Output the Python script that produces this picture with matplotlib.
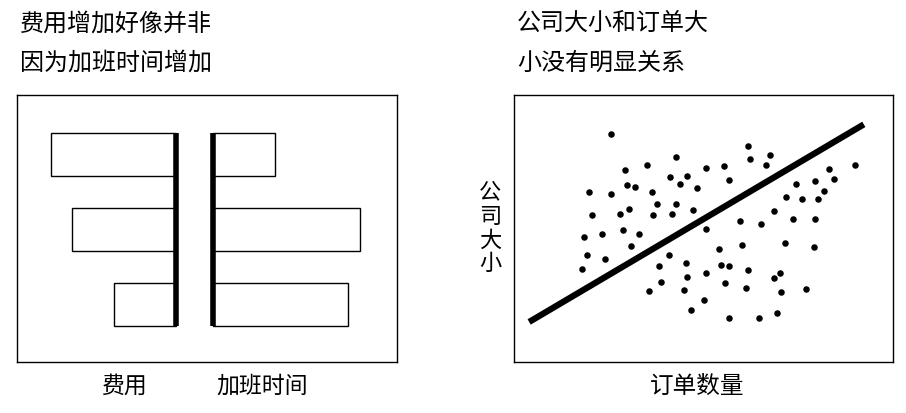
import matplotlib.pyplot as plt
import numpy as np

plt.rcParams['font.family'] = ['Noto Sans CJK SC', 'DejaVu Sans']

# Datos del panel izquierdo (3 departamentos)
costos = [6.3, 5.2, 3.1]          # 费用
horas_extra = [3.1, 7.3, 6.7]     # 加班时间

# Datos del panel derecho: 订单数量 (x) vs 公司大小 (y)
pedidos = [25.5, 61.8, 42.8, 62.4, 67.5, 66.4, 35.2, 29.2, 50.7, 55.4,
           83.0, 90.1, 41.2, 45.7, 56.6, 84.5, 79.4, 74.3, 29.7, 31.8,
           43.7, 48.4, 19.8, 25.6, 36.5, 81.8, 71.7, 75.9, 80.1, 37.7,
           42.7, 30.3, 47.2, 20.7, 27.9, 36.7, 41.7, 68.7, 59.5, 65.2,
           73.6, 79.5, 50.6, 18.5, 23.3, 28.8, 32.9, 31.0, 60.2, 71.6,
           79.2, 54.1, 19.3, 23.9, 40.9, 17.9, 38.3, 45.3, 54.7, 56.8,
           61.8, 45.7, 50.6, 68.5, 70.2, 38.8, 55.6, 35.5, 44.8, 61.2,
           70.4, 77.1, 50.0, 46.6, 56.6, 64.6, 69.3]
tamano = [85.3, 81.0, 76.7, 76.1, 77.6, 73.9, 73.6, 71.9, 72.7, 73.4,
          72.4, 73.7, 69.3, 69.8, 68.2, 68.5, 67.7, 66.8, 66.2, 65.5,
          66.5, 65.3, 63.7, 63.0, 63.5, 64.0, 61.8, 61.0, 61.1, 59.0,
          59.0, 57.2, 57.1, 55.1, 55.5, 55.0, 55.6, 56.7, 52.9, 51.6,
          53.7, 53.4, 49.9, 46.9, 47.8, 49.6, 48.1, 43.3, 43.8, 44.5,
          43.0, 42.3, 40.0, 38.7, 39.9, 34.9, 35.9, 37.0, 36.3, 35.8,
          34.4, 32.0, 33.2, 31.5, 33.4, 29.8, 29.7, 26.6, 26.8, 27.9,
          26.1, 27.2, 23.1, 19.3, 16.3, 16.3, 18.2]
tendencia_x = [4.0, 92.3]
tendencia_y = [15.0, 89.0]

fig = plt.figure(figsize=(9.06, 4.13), dpi=100)

# ---------------- Panel izquierdo ----------------
ax1 = fig.add_axes([17/906, 51/413, 380/906, 267/413])
y = np.arange(len(costos))
alto = 0.573
base_der = 1.85
ax1.barh(y, [-c for c in costos], height=alto, left=0, color='white',
         edgecolor='black', linewidth=1)
ax1.barh(y, horas_extra, height=alto, left=base_der, color='white',
         edgecolor='black', linewidth=1)
ax1.vlines([0, base_der], -alto/2, len(costos) - 1 + alto/2, color='black',
           linewidth=4)
ax1.set_xlim(-7.975, 11.025)
ax1.set_ylim(2.767, -0.793)
ax1.set_xticks([])
ax1.set_yticks([])
for s in ax1.spines.values():
    s.set_linewidth(1)

fig.text(124/906, 1 - 386/413, '费用', fontsize=16.5, ha='center', va='center')
fig.text(262/906, 1 - 386/413, '加班时间', fontsize=16.5, ha='center', va='center')
fig.text(20/906, 1 - 24/413, '费用增加好像并非', fontsize=17.3, ha='left', va='center')
fig.text(20/906, 1 - 63/413, '因为加班时间增加', fontsize=17.3, ha='left', va='center')

# ---------------- Panel derecho ----------------
ax2 = fig.add_axes([514/906, 51/413, 379/906, 267/413])
ax2.scatter(pedidos, tamano, s=22, color='black', linewidths=0)
ax2.plot(tendencia_x, tendencia_y, color='black', linewidth=4.5,
         solid_capstyle='butt')
ax2.set_xlim(0, 100)
ax2.set_ylim(0, 100)
ax2.set_xticks([])
ax2.set_yticks([])
for s in ax2.spines.values():
    s.set_linewidth(1)

fig.text(697/906, 1 - 386/413, '订单数量', fontsize=17, ha='center', va='center')
fig.text(490/906, 1 - 228/413, '公\n司\n大\n小', fontsize=16, ha='center',
         va='center', linespacing=1.05)
fig.text(517/906, 1 - 23/413, '公司大小和订单大', fontsize=17.3, ha='left', va='center')
fig.text(517/906, 1 - 63/413, '小没有明显关系', fontsize=17.3, ha='left', va='center')

plt.savefig('out.png', dpi=100)
